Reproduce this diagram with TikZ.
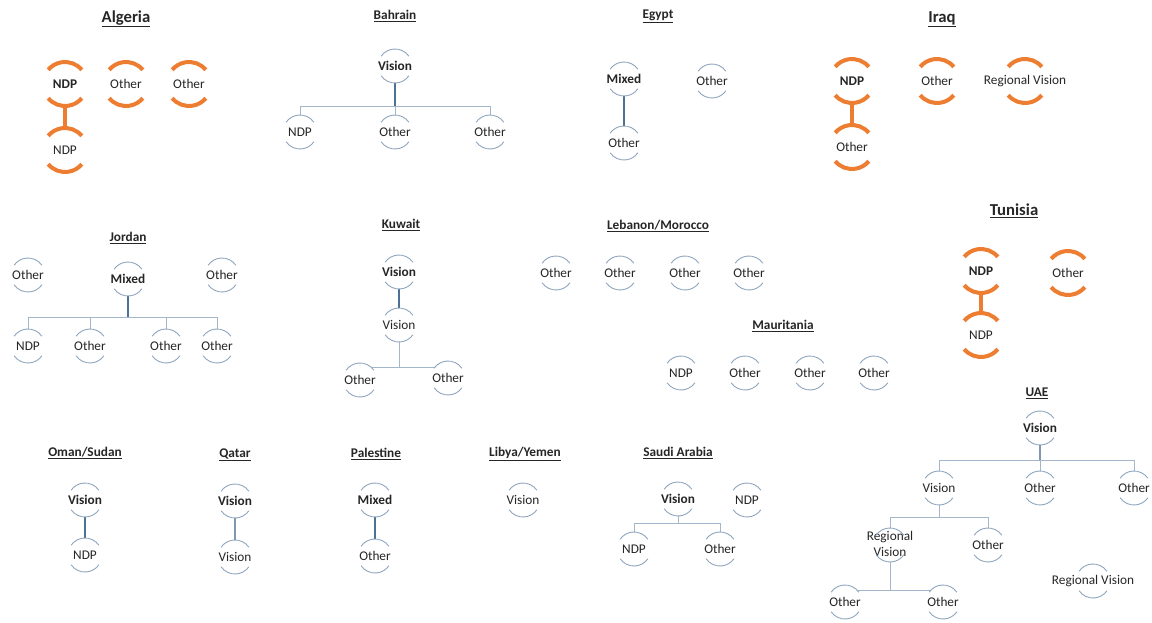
\documentclass[tikz,border=0pt]{standalone}
\usepackage{fontspec}
\setmainfont{Carlito}
\pgfdeclarelayer{background}
\pgfsetlayers{background,main}
\definecolor{arcb}{HTML}{8FA6BF}
\definecolor{barc}{HTML}{A3B6CA}
\definecolor{stemc}{HTML}{4D7196}
\definecolor{stemm}{HTML}{7F97B0}
\definecolor{orng}{HTML}{ED7D31}
\definecolor{txt}{HTML}{262626}
\newcommand\ctr[1]{\makebox[0pt]{#1}}
\begin{document}
\begin{tikzpicture}[x=1pt,y=-1pt,
  every node/.style={text=txt, font=\fontsize{13.3}{16}\selectfont},
  bub/.style={circle, minimum size=34pt, inner sep=0pt, outer sep=0pt, fill=white},
  bubo/.style={circle, minimum size=44pt, inner sep=0pt, outer sep=0pt, fill=white},
  arcln/.style={draw=arcb, line width=0.9pt},
  arco/.style={draw=orng, line width=4pt},
  bold/.style={font=\fontsize{13.3}{16}\selectfont\bfseries},
  ttl/.style={font=\fontsize{13.3}{16}\selectfont\bfseries},
  bigttl/.style={font=\fontsize{16.7}{20}\selectfont\bfseries},
  barln/.style={draw=barc, line width=1pt},
  stemln/.style={draw=stemc, line width=2pt},
  stemmid/.style={draw=stemm, line width=1.3pt},
  ostem/.style={draw=orng, line width=4.5pt}]
\useasboundingbox (0,0) rectangle (1152,622);

% ---------- Algeria
\node[bigttl] (tAl) at (126,19) {\underline{Algeria}};
\node[bubo,bold] (alN1) at (65,84) {\ctr{NDP}};
\node[bubo] (alO1) at (126,84) {\ctr{Other}};
\node[bubo] (alO2) at (189,84) {\ctr{Other}};
\node[bubo] (alN2) at (65,150) {\ctr{NDP}};

% ---------- Bahrain
\node[ttl] (tBa) at (395,16) {\underline{Bahrain}};
\node[bub,bold] (baV) at (395,66) {\ctr{Vision}};
\node[bub] (baN) at (300,132) {\ctr{NDP}};
\node[bub] (baO1) at (395,132) {\ctr{Other}};
\node[bub] (baO2) at (490,132) {\ctr{Other}};
\coordinate (bbar) at (0,106);

% ---------- Egypt
\node[ttl] (tEg) at (658,16) {\underline{Egypt}};
\node[bub,bold] (egM) at (624,79) {\ctr{Mixed}};
\node[bub] (egO1) at (624,143) {\ctr{Other}};
\node[bub] (egO2) at (712,81) {\ctr{Other}};

% ---------- Iraq
\node[bigttl] (tIq) at (942,19) {\underline{Iraq}};
\node[bubo,bold] (iqN) at (852,81) {\ctr{NDP}};
\node[bubo] (iqO) at (937,81) {\ctr{Other}};
\node[bubo] (iqR) at (1025,81) {\ctr{Regional Vision}};
\node[bubo] (iqO2) at (852,147) {\ctr{Other}};

% ---------- Jordan
\node[ttl] (tJo) at (128,238) {\underline{Jordan}};
\node[bub,bold] (joM) at (128,279) {\ctr{Mixed}};
\node[bub] (joO1) at (28,275) {\ctr{Other}};
\node[bub] (joO2) at (222,275) {\ctr{Other}};
\node[bub] (joN) at (28,346) {\ctr{NDP}};
\node[bub] (joC1) at (90,346) {\ctr{Other}};
\node[bub] (joC2) at (166,346) {\ctr{Other}};
\node[bub] (joC3) at (217,346) {\ctr{Other}};
\coordinate (jbar) at (0,317);

% ---------- Kuwait
\node[ttl] (tKu) at (401,225) {\underline{Kuwait}};
\node[bub,bold] (kuV1) at (399,272) {\ctr{Vision}};
\node[bub] (kuV2) at (399,325) {\ctr{Vision}};
\node[bub] (kuO1) at (360,380) {\ctr{Other}};
\node[bub] (kuO2) at (448,378) {\ctr{Other}};
\coordinate (kbar) at (0,367);

% ---------- Lebanon/Morocco
\node[ttl] (tLe) at (658,226) {\underline{Lebanon/Morocco}};
\node[bub] (leO1) at (556,273) {\ctr{Other}};
\node[bub] (leO2) at (620,273) {\ctr{Other}};
\node[bub] (leO3) at (685,273) {\ctr{Other}};
\node[bub] (leO4) at (749,273) {\ctr{Other}};

% ---------- Mauritania
\node[ttl] (tMa) at (783,326) {\underline{Mauritania}};
\node[bub] (maN) at (681,373) {\ctr{NDP}};
\node[bub] (maO1) at (745,373) {\ctr{Other}};
\node[bub] (maO2) at (810,373) {\ctr{Other}};
\node[bub] (maO3) at (874,373) {\ctr{Other}};

% ---------- Tunisia
\node[bigttl] (tTu) at (1014,211) {\underline{Tunisia}};
\node[bubo,bold] (tuN1) at (981,271) {\ctr{NDP}};
\node[bubo] (tuO) at (1068,273) {\ctr{Other}};
\node[bubo] (tuN2) at (981,335) {\ctr{NDP}};

% ---------- UAE
\node[ttl] (tUa) at (1037,393) {\underline{UAE}};
\node[bub,bold] (uaV) at (1040,428) {\ctr{Vision}};
\node[bub] (uaV2) at (939,488) {\ctr{Vision}};
\node[bub] (uaO1) at (1040,488) {\ctr{Other}};
\node[bub] (uaO2) at (1134,488) {\ctr{Other}};
\node[bub] (uaR) at (890,545) {\ctr{\begin{tabular}{@{}c@{}}Regional\\Vision\end{tabular}}};
\node[bub] (uaO3) at (988,545) {\ctr{Other}};
\node[bub] (uaO4) at (845,602) {\ctr{Other}};
\node[bub] (uaO5) at (943,602) {\ctr{Other}};
\node[bub] (uaR2) at (1093,581) {\ctr{Regional Vision}};
\coordinate (ubar1) at (0,460);
\coordinate (ubar2) at (0,517);
\coordinate (ubar3) at (0,590);

% ---------- Oman/Sudan
\node[ttl] (tOm) at (85,453) {\underline{Oman/Sudan}};
\node[bub,bold] (omV) at (85,500) {\ctr{Vision}};
\node[bub] (omN) at (85,555) {\ctr{NDP}};

% ---------- Qatar
\node[ttl] (tQa) at (235,455) {\underline{Qatar}};
\node[bub,bold] (qaV) at (235,501) {\ctr{Vision}};
\node[bub] (qaV2) at (235,557) {\ctr{Vision}};

% ---------- Palestine
\node[ttl] (tPa) at (376,454) {\underline{Palestine}};
\node[bub,bold] (paM) at (375,500) {\ctr{Mixed}};
\node[bub] (paO) at (375,556) {\ctr{Other}};

% ---------- Libya/Yemen
\node[ttl] (tLi) at (525,454) {\underline{Libya/Yemen}};
\node[bub] (liV) at (523,500) {\ctr{Vision}};

% ---------- Saudi Arabia
\node[ttl] (tSa) at (678,453) {\underline{Saudi Arabia}};
\node[bub,bold] (saV) at (678,499) {\ctr{Vision}};
\node[bub] (saN) at (747,500) {\ctr{NDP}};
\node[bub] (saN2) at (634,549) {\ctr{NDP}};
\node[bub] (saO) at (720,549) {\ctr{Other}};
\coordinate (sbar) at (0,523);

% ---------- arcs round the discs
\foreach \n in {baV,baN,baO1,baO2,egM,egO1,egO2,joM,joO1,joO2,joN,joC1,joC2,joC3,
  kuV1,kuV2,kuO1,kuO2,leO1,leO2,leO3,leO4,maN,maO1,maO2,maO3,
  uaV,uaV2,uaO1,uaO2,uaR,uaO3,uaO4,uaO5,uaR2,omV,omN,qaV,qaV2,paM,paO,liV,
  saV,saN,saN2,saO}{
  \draw[arcln] (\n.center) ++(35:17pt) arc[start angle=35, end angle=145, radius=17pt];
  \draw[arcln] (\n.center) ++(215:17pt) arc[start angle=215, end angle=325, radius=17pt];
}
\foreach \n in {alN1,alO1,alO2,alN2,iqN,iqO,iqR,iqO2,tuN1,tuO,tuN2}{
  \draw[arco] (\n.center) ++(40:22pt) arc[start angle=40, end angle=140, radius=22pt];
  \draw[arco] (\n.center) ++(220:22pt) arc[start angle=220, end angle=320, radius=22pt];
}

% ---------- connectors (behind the white discs)
\begin{pgfonlayer}{background}
  \draw[ostem] (alN1.center) -- (alN2.center);
  \draw[ostem] (iqN.center) -- (iqO2.center);
  \draw[ostem] (tuN1.center) -- (tuN2.center);

  \draw[barln] (baN.center) -- (baN |- bbar) -- (baO2 |- bbar) -- (baO2.center);
  \draw[barln] (baO1.center) -- (baO1 |- bbar);
  \draw[stemln] (baV.center) -- (baV |- bbar);

  \draw[stemln] (egM.center) -- (egO1.center);

  \draw[barln] (joN.center) -- (joN |- jbar) -- (joC3 |- jbar) -- (joC3.center);
  \draw[barln] (joC1.center) -- (joC1 |- jbar);
  \draw[barln] (joC2.center) -- (joC2 |- jbar);
  \draw[stemln] (joM.center) -- (joM |- jbar);

  \draw[stemln] (kuV1.center) -- (kuV2.center);
  \draw[barln] (kuO1.center) -- (kuO1 |- kbar) -- (kuO2 |- kbar) -- (kuO2.center);
  \draw[barln] (kuV2.center) -- (kuV2 |- kbar);

  \draw[barln] (uaV2.center) -- (uaV2 |- ubar1) -- (uaO2 |- ubar1) -- (uaO2.center);
  \draw[barln] (uaO1.center) -- (uaO1 |- ubar1);
  \draw[stemmid] (uaV.center) -- (uaV |- ubar1);
  \draw[barln] (uaR.center) -- (uaR |- ubar2) -- (uaO3 |- ubar2) -- (uaO3.center);
  \draw[barln] (uaV2.center) -- (uaV2 |- ubar2);
  \draw[barln] (uaO4.center) -- (uaO4 |- ubar3) -- (uaO5 |- ubar3) -- (uaO5.center);
  \draw[barln] (uaR.center) -- (uaR |- ubar3);

  \draw[stemln] (omV.center) -- (omN.center);
  \draw[stemmid] (qaV.center) -- (qaV2.center);
  \draw[stemln] (paM.center) -- (paO.center);

  \draw[barln] (saN2.center) -- (saN2 |- sbar) -- (saO |- sbar) -- (saO.center);
  \draw[barln] (saV.center) -- (saV |- sbar);
\end{pgfonlayer}
\end{tikzpicture}
\end{document}
